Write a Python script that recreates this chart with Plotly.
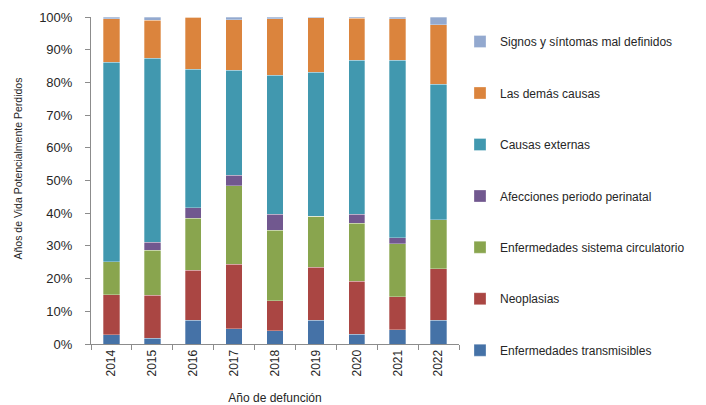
import plotly.graph_objects as go

years = ["2014", "2015", "2016", "2017", "2018", "2019", "2020", "2021", "2022"]

transmisibles = [2.8, 1.7, 7.2, 4.6, 4.1, 7.2, 3.0, 4.4, 7.2]
neoplasias = [12.2, 13.2, 15.4, 19.8, 9.1, 16.2, 16.2, 10.1, 15.8]
circulatorio = [10.2, 13.8, 15.8, 24.0, 21.6, 15.6, 17.8, 16.1, 15.0]
perinatal = [0.0, 2.4, 3.2, 3.2, 4.9, 0.0, 2.7, 1.9, 0.0]
externas = [60.9, 56.3, 42.4, 32.2, 42.5, 44.1, 47.0, 54.3, 41.5]
demas = [13.4, 11.6, 16.0, 15.5, 17.3, 16.7, 12.9, 12.6, 18.1]
signos = [0.5, 1.0, 0.0, 0.8, 0.5, 0.2, 0.4, 0.6, 2.4]

series = [
    ("Enfermedades transmisibles", transmisibles, "#4572A7"),
    ("Neoplasias", neoplasias, "#AA4643"),
    ("Enfermedades sistema circulatorio", circulatorio, "#89A54E"),
    ("Afecciones periodo perinatal", perinatal, "#71588F"),
    ("Causas externas", externas, "#4198AF"),
    ("Las demás causas", demas, "#DB843D"),
    ("Signos y síntomas mal definidos", signos, "#93A9CF"),
]

font_family = "Liberation Sans, Arial, sans-serif"
W, H = 706, 405

fig = go.Figure()
for i, (name, vals, color) in enumerate(series):
    fig.add_trace(go.Bar(
        x=years, y=vals, name=name,
        marker=dict(color=color, line=dict(color="rgba(255,255,255,0.6)", width=0.5)),
        legendgroup=f"g{i}",
        legendrank=1000 - 10 * i,
        legend="legend" if i >= 3 else "legend2",
    ))

legend_common = dict(
    traceorder="grouped",
    tracegroupgap=32.5,
    font=dict(size=12, color="#262626"),
    xref="container", yref="container",
    x=460 / W,
    xanchor="left", yanchor="top",
    bgcolor="rgba(0,0,0,0)",
)

fig.update_layout(
    barmode="stack",
    barnorm="percent",
    bargap=0.6,
    width=W, height=H,
    margin=dict(l=91, r=247, t=17, b=61, autoexpand=False),
    paper_bgcolor="white", plot_bgcolor="white",
    font=dict(family=font_family, color="#262626"),
    showlegend=True,
    legend=dict(legend_common, y=1 - 27 / H),
    legend2=dict(legend_common, y=1 - 232.7 / H),
    xaxis=dict(
        automargin=False,
        showline=True, linecolor="#8C8C8C", linewidth=1,
        ticks="outside", tickson="boundaries", ticklen=5, tickcolor="#8C8C8C",
        tickangle=-90, tickfont=dict(size=12, color="#262626"),
        showgrid=False,
        title=dict(text="Año de defunción", font=dict(size=12, color="#262626"), standoff=18),
    ),
    yaxis=dict(
        automargin=False,
        range=[0, 100], dtick=10, ticksuffix="%",
        showline=True, linecolor="#8C8C8C", linewidth=1,
        ticks="outside", ticklen=5, tickcolor="#8C8C8C",
        tickfont=dict(size=13, color="#262626"),
        ticklabelstandoff=10,
        showgrid=False, zeroline=False,
    ),
    annotations=[dict(
        text="Años de Vida Potencialmente Perdidos",
        xref="paper", yref="paper",
        x=-0.198, y=0.537,
        xanchor="center", yanchor="middle",
        textangle=-90, showarrow=False,
        font=dict(size=10.5, color="#262626"),
    )],
)

fig.write_html(
    "out.html",
    config={"displayModeBar": False},
    post_script="document.body.style.margin='0';document.documentElement.style.overflow='hidden';",
)
